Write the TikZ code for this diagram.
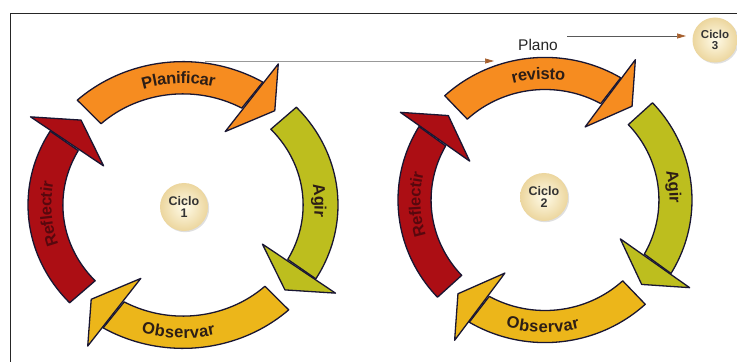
\documentclass[tikz,border=0pt]{standalone}
\usepackage{fontspec}
\setmainfont{Liberation Sans}
\usetikzlibrary{decorations.text,arrows.meta,shadows}
\definecolor{orng}{RGB}{246,140,32}
\definecolor{olive}{RGB}{189,190,30}
\definecolor{gold}{RGB}{236,182,26}
\definecolor{dred}{RGB}{172,14,20}
\definecolor{outl}{RGB}{25,22,50}
\definecolor{txt}{RGB}{45,30,22}
\definecolor{rtxt}{RGB}{88,8,14}
\definecolor{abrown}{RGB}{165,95,45}
\definecolor{cream1}{RGB}{255,251,232}
\definecolor{cream2}{RGB}{236,214,158}
\newcommand{\bandfont}{\fontsize{16.5}{16.5}\selectfont\bfseries\color{txt}}
\newcommand{\redfont}{\fontsize{16.5}{16.5}\selectfont\bfseries\color{rtxt}}
% ring segment: cx cy R ky start(screen deg, clockwise) colour
\newcommand{\ringseg}[6]{%
  \pgfmathsetmacro\aS{-(#5)}%
  \pgfmathsetmacro\aO{-(#5+74)}%
  \pgfmathsetmacro\aI{-(#5+72.3)}%
  \pgfmathsetmacro\hI{-(#5+71)}%
  \pgfmathsetmacro\hO{-(#5+75)}%
  \pgfmathsetmacro\hT{-(#5+85)}%
  \filldraw[band,fill=#6]
    plot[domain=\aS:\aO,samples=40] ({#1+#3*cos(\x)},{#2+#3*#4*sin(\x)})
    -- plot[domain=\aI:\aS,samples=40] ({#1+0.775*#3*cos(\x)},{#2+0.775*#3*#4*sin(\x)})
    -- cycle;
  \filldraw[band,fill=#6]
    ({#1+0.58*#3*cos(\hI)},{#2+0.58*#3*#4*sin(\hI)})
    -- ({#1+1.16*#3*cos(\hO)},{#2+1.16*#3*#4*sin(\hO)})
    -- ({#1+0.885*#3*cos(\hT)},{#2+0.885*#3*#4*sin(\hT)}) -- cycle;
}
% text along band: cx cy R ky startangle endangle (math) text
\newcommand{\bandtext}[7]{%
  \path[decorate,decoration={text along path,text={#7},text align=center,raise=-5.9pt}]
    ({#1+0.8875*#3*cos(#5)},{#2+0.8875*#3*#4*sin(#5)})
    arc[start angle=#5,end angle=#6,x radius={0.8875*#3},y radius={0.8875*#3*#4}];
}
\begin{document}
\begin{tikzpicture}[x=1pt,y=1pt,
  band/.style={draw=outl,line width=1.3pt,line join=round},
  ciclo/.style={circle,minimum size=48pt,inner sep=0pt,inner color=cream1,outer color=cream2,
    align=center,font=\fontsize{12.5}{12.5}\selectfont\bfseries,text=black!80,
    drop shadow={shadow xshift=1.2pt,shadow yshift=-1.2pt,opacity=0.25}},
  conn/.style={line width=0.7pt,-{Triangle[length=9pt,width=5pt,color=abrown]}}]
\useasboundingbox (0,0) rectangle (737,362);
\fill[white] (0,0) rectangle (737,362);
% frame
\coordinate (ftl) at (10,349);
\coordinate (ftr) at (737,349);
\coordinate (fbl) at (10,0);
\draw[line width=0.9pt,black!85] (ftr) -- (ftl) -- (fbl);
% Plano connector from cycle 1 to cycle 2
\coordinate (pls) at (205,301);
\coordinate (ple) at (494,301);
\draw[conn,black!40] (pls) -- (ple);
% ring 1
\ringseg{183}{157}{155}{0.925}{137}{dred}
\ringseg{183}{157}{155}{0.925}{227}{orng}
\ringseg{183}{157}{155}{0.925}{317}{olive}
\ringseg{183}{157}{155}{0.925}{47}{gold}
\bandtext{183}{157}{155}{0.925}{-225}{-311}{|\bandfont|Planificar}
\bandtext{183}{157}{155}{0.925}{-318}{-398}{|\bandfont|Agir}
\bandtext{183}{157}{155}{0.925}{-132}{-52}{|\bandfont|Observar}
\bandtext{183}{157}{155}{0.925}{-134}{-218}{|\redfont|Reflectir}
% ring 2
\ringseg{545}{162}{147}{0.97}{137}{dred}
\ringseg{545}{162}{147}{0.97}{227}{orng}
\ringseg{545}{162}{147}{0.97}{317}{olive}
\ringseg{545}{162}{147}{0.97}{47}{gold}
\bandtext{545}{162}{147}{0.97}{-227}{-307}{|\bandfont|revisto}
\bandtext{545}{162}{147}{0.97}{-314}{-394}{|\bandfont|Agir}
\bandtext{545}{162}{147}{0.97}{-131}{-51}{|\bandfont|Observar}
\bandtext{545}{162}{147}{0.97}{-136}{-220}{|\redfont|Reflectir}
% cycle centres
\node[ciclo] (c1) at (184,155) {Ciclo\\1};
\node[ciclo] (c2) at (544,165) {Ciclo\\2};
\node[ciclo,minimum size=45pt,font=\fontsize{11.5}{11.5}\selectfont\bfseries] (c3) at (715,322) {Ciclo\\3};
% Plano label and arrow to cycle 3
\node[font=\fontsize{15.5}{15.5}\selectfont,text=black!85] (plano) at (538,317) {Plano};
\coordinate (p3s) at (567,326);
\coordinate (p3e) at (686,326);
\draw[conn,black!65] (p3s) -- (p3e);
\end{tikzpicture}
\end{document}
